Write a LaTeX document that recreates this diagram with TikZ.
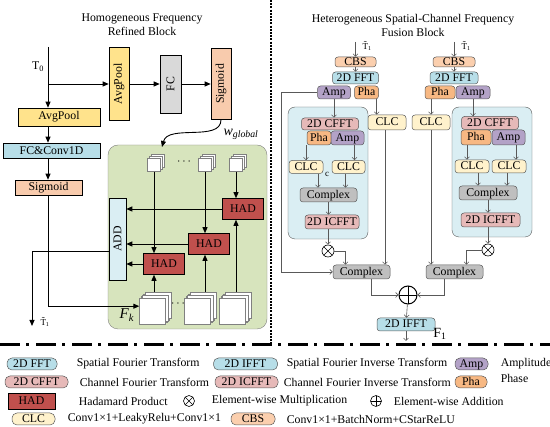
\documentclass[tikz,border=0pt]{standalone}
\usepackage{fontspec}
\setmainfont{Liberation Serif}
\usetikzlibrary{arrows.meta,shadows,positioning}
\definecolor{poolyellow}{HTML}{FFE38C}
\definecolor{fcgray}{HTML}{D9D9D9}
\definecolor{sigpeach}{HTML}{F8CBAD}
\definecolor{convblue}{HTML}{B7DEE8}
\definecolor{addblue}{HTML}{DAEEF3}
\definecolor{hadred}{HTML}{C0504D}
\definecolor{mapgreen}{HTML}{D7E4BD}
\definecolor{fftblue}{HTML}{B7DEE8}
\definecolor{cfftpink}{HTML}{E6B9B8}
\definecolor{amppurple}{HTML}{B3A2C7}
\definecolor{phaorange}{HTML}{F7B883}
\definecolor{clcyellow}{HTML}{FFF2CC}
\definecolor{cbspeach}{HTML}{FBCFAE}
\definecolor{cplxgray}{HTML}{BFBFBF}
\definecolor{innerblue}{HTML}{DAEEF3}
\definecolor{linegray}{HTML}{595959}
\begin{document}
\begin{tikzpicture}[x=1pt,y=-1pt,
every node/.style={font=\fontsize{11.8}{14}\selectfont},
box/.style={draw, line width=0.6pt, inner sep=0pt},
pill/.style={draw=linegray, line width=0.5pt, rounded corners=3pt, inner sep=0pt, text height=8.5pt, text depth=1.5pt},
keypill/.style={pill, rounded corners=5pt, minimum height=12pt},
had/.style={box, fill=hadred, minimum width=41pt, minimum height=21pt},
fmap/.style={draw=gray, fill=white, line width=0.4pt, inner sep=0pt, minimum size=13pt, double copy shadow={shadow xshift=2pt, shadow yshift=2pt, draw=gray, fill=white}},
bigfmap/.style={fmap, minimum size=26pt, double copy shadow={shadow xshift=3pt, shadow yshift=3pt, draw=gray, fill=white}},
mulop/.style={circle, draw, line width=0.6pt, fill=white, minimum size=12pt, inner sep=0pt, path picture={\draw[line width=0.6pt] (path picture bounding box.north west) -- (path picture bounding box.south east) (path picture bounding box.north east) -- (path picture bounding box.south west);}},
addop/.style={circle, draw, line width=1pt, fill=white, minimum size=18pt, inner sep=0pt, path picture={\draw[line width=0.8pt] (path picture bounding box.north) -- (path picture bounding box.south) (path picture bounding box.east) -- (path picture bounding box.west);}},
larr/.style={-{Triangle[length=6pt,width=5pt]}, line width=0.9pt},
rarr/.style={-{Straight Barb[length=2.5pt,width=5pt]}, draw=linegray, line width=0.6pt}
]
\useasboundingbox (0,0) rectangle (550,427);

% homogeneous frequency refined block
\node[align=center] (lefttitle) at (142,25) {Homogeneous Frequency\\Refined Block};
\node (t0) at (38,67) {T\textsubscript{0}};
\coordinate (t0top) at (48,47);
\node[box, fill=poolyellow, minimum width=20pt, minimum height=73pt] (vpool) at (119,84) {\rotatebox{90}{AvgPool}};
\node[box, fill=fcgray, minimum width=21pt, minimum height=58pt] (vfc) at (170.5,84) {\rotatebox{90}{FC}};
\node[box, fill=sigpeach, minimum width=20pt, minimum height=71pt] (vsig) at (221,84) {\rotatebox{90}{Sigmoid}};
\node[box, fill=poolyellow, minimum width=82pt, minimum height=18pt] (pool) at (59,117) {AvgPool};
\node[box, fill=convblue, minimum width=97pt, minimum height=15pt] (fcconv) at (51.5,150.5) {FC\&Conv1D};
\node[box, fill=sigpeach, minimum width=67pt, minimum height=15pt] (sig) at (48.5,187.5) {Sigmoid};

\node[draw=gray, fill=mapgreen, rounded corners=10pt, minimum width=159pt, minimum height=184pt] (hfbox) at (187.5,237) {};
\node[box, fill=addblue, minimum width=17pt, minimum height=82pt] (add) at (117.5,239) {\rotatebox{90}{ADD}};
\node[had] (had1) at (243,209) {HAD};
\node[had] (had2) at (209,244) {HAD};
\node[had] (had3) at (164,264) {HAD};
\node[fmap] (s1) at (154,165) {};
\node (sdots) at (184,162) {$\cdots$};
\node[fmap] (s2) at (205,165) {};
\node[fmap] (s3) at (236,165) {};
\node[bigfmap] (f1) at (152.5,311) {};
\node (fdots) at (178,304) {$\cdots$};
\node[bigfmap] (f2) at (197,311) {};
\node[bigfmap] (f3) at (232,311) {};
\node (fklabel) at (127,315) {\fontsize{15}{15}\selectfont\textit{F}\textsubscript{\textit{k}}};
\node (wlabel) at (241,134) {\fontsize{14}{14}\selectfont\textit{w}\textsubscript{\textit{global}}};
\coordinate (gin) at (162,147);
\coordinate (tout) at (32,326);
\node (t1out) at (45,322) {\fontsize{9}{9}\selectfont\~{T}\textsubscript{1}};

\draw[larr] (t0top) -- (t0top |- pool.north);
\draw[larr] (vpool.west -| t0top) -- (vpool.west);
\draw[larr] (vpool) -- (vfc);
\draw[larr] (vfc) -- (vsig);
\draw[larr] (vsig.south) .. controls (221,142) and (168,124) .. (gin);
\draw[larr] (pool.south -| t0top) -- (fcconv.north -| t0top);
\draw[larr] (fcconv.south -| t0top) -- (sig.north -| t0top);
\draw[larr] (sig.south) |- (f1.160);
\draw[larr] (s1.south) -- (s1.south |- had3.north);
\draw[larr] (s2.south) -- (s2.south |- had2.north);
\draw[larr] (s3.south) -- (s3.south |- had1.north);
\draw[larr] ([yshift=6pt]f1.north -| s1) -- (s1 |- had3.south);
\draw[larr] ([yshift=6pt]f2.north -| s2) -- (s2 |- had2.south);
\draw[larr] ([yshift=6pt]f3.north -| s3) -- (s3 |- had1.south);
\draw[larr] (had1.west) -- (had1.west -| add.east);
\draw[larr] (had2.west) -- (had2.west -| add.east);
\draw[larr] (had3.west) -- (had3.west -| add.east);
\draw[larr] ([yshift=-12pt]add.west) -| (tout);

% heterogeneous spatial-channel frequency fusion block
\node[align=center] (righttitle) at (413,25) {Heterogeneous Spatial-Channel Frequency\\Fusion Block};
\node[draw=linegray, fill=innerblue, rounded corners=7pt, minimum width=80pt, minimum height=132pt] (sbox1) at (328,173) {};
\node[draw=linegray, fill=innerblue, rounded corners=7pt, minimum width=80pt, minimum height=130pt] (sbox2) at (492,172) {};

\coordinate (in1) at (355.5,42);
\node (t1a) at (367,46) {\fontsize{9}{9}\selectfont\~{T}\textsubscript{1}};
\node[pill, fill=cbspeach, minimum width=41pt, minimum height=10pt] (cbs1) at (355.5,62) {CBS};
\node[pill, fill=fftblue, minimum width=46pt, minimum height=12pt] (fft1) at (355.5,78) {2D FFT};
\node[pill, fill=amppurple, minimum width=33pt, minimum height=13pt] (amp1) at (334,92.5) {Amp};
\node[pill, fill=phaorange, minimum width=24pt, minimum height=13pt] (pha1) at (366.5,92.5) {Pha};
\node[pill, fill=clcyellow, minimum width=38pt, minimum height=15pt] (clc1r) at (387,122.5) {CLC};
\node[pill, fill=cfftpink, minimum width=57pt, minimum height=12pt] (cfft1) at (330,124) {2D CFFT};
\node[pill, fill=phaorange, minimum width=24pt, minimum height=14pt] (ipha1) at (319,138) {Pha};
\node[pill, fill=amppurple, minimum width=33pt, minimum height=14pt] (iamp1) at (347.5,138) {Amp};
\node[pill, fill=clcyellow, minimum width=34pt, minimum height=13pt] (clca1) at (306,167) {CLC};
\node[pill, fill=clcyellow, minimum width=33pt, minimum height=13pt] (clcb1) at (348.5,167) {CLC};
\node (cmark) at (327,174) {\fontsize{9}{9}\selectfont c};
\node[pill, fill=cplxgray, minimum width=57pt, minimum height=14pt] (cplxi1) at (328.5,195) {Complex};
\node[pill, fill=cfftpink, minimum width=54pt, minimum height=14pt] (icfft1) at (332,222) {2D ICFFT};
\node[mulop] (mul1) at (328,251) {};
\node[pill, fill=cplxgray, minimum width=57pt, minimum height=14pt] (cplxo1) at (361.5,272) {Complex};

\coordinate (in2) at (454,42);
\node (t1b) at (466,46) {\fontsize{9}{9}\selectfont\~{T}\textsubscript{1}};
\node[pill, fill=cbspeach, minimum width=42pt, minimum height=10pt] (cbs2) at (454,62) {CBS};
\node[pill, fill=fftblue, minimum width=48pt, minimum height=12pt] (fft2) at (454,78) {2D FFT};
\node[pill, fill=phaorange, minimum width=30pt, minimum height=13pt] (pha2) at (440,92.5) {Pha};
\node[pill, fill=amppurple, minimum width=34pt, minimum height=13pt] (amp2) at (473,92.5) {Amp};
\node[pill, fill=clcyellow, minimum width=38pt, minimum height=15pt] (clc2l) at (431,122.5) {CLC};
\node[pill, fill=cfftpink, minimum width=57pt, minimum height=13pt] (cfft2) at (490,123) {2D CFFT};
\node[pill, fill=phaorange, minimum width=30pt, minimum height=15pt] (ipha2) at (476,137.5) {Pha};
\node[pill, fill=amppurple, minimum width=33pt, minimum height=15pt] (iamp2) at (508.5,137.5) {Amp};
\node[pill, fill=clcyellow, minimum width=34pt, minimum height=13pt] (clcc2) at (472,166.5) {CLC};
\node[pill, fill=clcyellow, minimum width=34pt, minimum height=13pt] (clcd2) at (509,166.5) {CLC};
\node[pill, fill=cplxgray, minimum width=58pt, minimum height=14pt] (cplxi2) at (488,193) {Complex};
\node[pill, fill=cfftpink, minimum width=59pt, minimum height=14pt] (icfft2) at (490.5,220) {2D ICFFT};
\node[mulop] (mul2) at (488,250) {};
\node[pill, fill=cplxgray, minimum width=57pt, minimum height=14pt] (cplxo2) at (454.5,272) {Complex};

\node[addop] (plus) at (408,295) {};
\node[pill, fill=fftblue, minimum width=58pt, minimum height=13pt] (ifft) at (406,324.5) {2D IFFT};
\coordinate (fout) at (406,341);
\node (f1label) at (440,334) {\fontsize{14}{14}\selectfont F\textsubscript{1}};

\draw[rarr] (in1) -- (cbs1);
\draw[rarr] (cbs1) -- (fft1);
\draw[rarr] (amp1.south) -- (amp1.south |- cfft1.north);
\draw[rarr] ([xshift=-2pt]pha1.south east) -- ([xshift=-2pt]pha1.south east |- clc1r.north);
\draw[rarr] (amp1.west) -- ++(-36,0) |- (cplxo1.west);
\draw[rarr] (clca1.north |- ipha1.south) -- (clca1.north);
\draw[rarr] ([xshift=6pt]clcb1.north |- iamp1.south) -- ([xshift=6pt]clcb1.north);
\draw[rarr] ([xshift=12pt]clca1.south) -- ([xshift=12pt]clca1.south |- cplxi1.north);
\draw[rarr] ([xshift=-3pt]clcb1.south) -- ([xshift=-3pt]clcb1.south |- cplxi1.north);
\draw[rarr] (cplxi1.south) -- (cplxi1.south |- icfft1.north);
\draw[rarr] (mul1 |- icfft1.south) -- (mul1.north);
\draw[rarr] (mul1.east) -| ([xshift=-16pt]cplxo1.north);
\draw[rarr] ([xshift=-2pt]clc1r.south) -- ([xshift=-2pt]clc1r.south |- cplxo1.north);
\draw[rarr] ([xshift=10pt]cplxo1.south) |- (plus.west);

\draw[rarr] (in2) -- (cbs2);
\draw[rarr] (cbs2) -- (fft2);
\draw[rarr] (clc2l.north |- pha2.south) -- (clc2l.north);
\draw[rarr] (amp2.south) -- (amp2.south |- cfft2.north);
\draw[rarr] ([xshift=-5pt]clcc2.north |- ipha2.south) -- ([xshift=-5pt]clcc2.north);
\draw[rarr] ([xshift=7pt]clcd2.north |- iamp2.south) -- ([xshift=7pt]clcd2.north);
\draw[rarr] ([xshift=6pt]clcc2.south) -- ([xshift=6pt]clcc2.south |- cplxi2.north);
\draw[rarr] ([xshift=-2pt]clcd2.south) -- ([xshift=-2pt]clcd2.south |- cplxi2.north);
\draw[rarr] (cplxi2.south) -- (cplxi2.south |- icfft2.north);
\draw[rarr] (mul2 |- icfft2.south) -- (mul2.north);
\draw[rarr] (mul2.west) -| ([xshift=12pt]cplxo2.north);
\draw[rarr] (clc2l.south) -- (clc2l.south |- cplxo2.north);
\draw[rarr] ([xshift=-10pt]cplxo2.south) |- (plus.east);
\draw[rarr] (plus) -- (ifft);
\draw[rarr] (ifft) -- (fout);

% dividers
\draw[line width=2.5pt, dash pattern=on 2pt off 1.2pt] (271,0) -- (271,344);
\draw[line width=3pt, dash pattern=on 20pt off 6pt on 3pt off 7pt] (0,345) -- (550,345);

% legend
\node[keypill, fill=fftblue, minimum width=50pt] (kfft) at (32,364) {2D FFT};
\node[right=16pt of kfft] (tfft) {Spatial Fourier Transform};
\node[keypill, fill=fftblue, minimum width=64pt] (kifft) at (245.5,364) {2D IFFT};
\node[right=5.5pt of kifft] (tifft) {Spatial Fourier Inverse Transform};
\node[keypill, fill=amppurple, minimum width=33pt] (kamp) at (471.5,364) {Amp};
\node[right=9pt of kamp] (tamp) {Amplitude};
\node[keypill, fill=cfftpink, minimum width=63pt] (kcfft) at (36.5,382) {2D CFFT};
\node[right=8pt of kcfft] (tcfft) {Channel Fourier Transform};
\node[keypill, fill=cfftpink, minimum width=63pt] (kicfft) at (246.5,382) {2D ICFFT};
\node[right=2pt of kicfft] (ticfft) {Channel Fourier Inverse Transform};
\node[keypill, fill=phaorange, minimum width=32pt] (kpha) at (471,382) {Pha};
\node[right=10pt of kpha, yshift=4pt] (tpha) {Phase};
\node[box, fill=hadred, minimum width=47pt, minimum height=16pt] (khad) at (31.5,401) {HAD};
\node[right=20pt of khad] (thad) {Hadamard Product};
\node[mulop, minimum size=11pt] (kmul) at (189,401) {};
\node[right=13.5pt of kmul] (tmul) {Element-wise Multiplication};
\node[addop, line width=0.6pt, minimum size=11pt] (kadd) at (376,401) {};
\node[right=8.5pt of kadd] (tadd) {Element-wise Addition};
\node[keypill, fill=clcyellow, minimum width=43pt] (kclc) at (33.5,419) {CLC};
\node[right=9pt of kclc] (tclc) {Conv1×1+LeakyRelu+Conv1×1};
\node[keypill, fill=cbspeach, minimum width=44pt] (kcbs) at (253,419) {CBS};
\node[right=8pt of kcbs] (tcbs) {Conv1×1+BatchNorm+CStarReLU};
\end{tikzpicture}
\end{document}
